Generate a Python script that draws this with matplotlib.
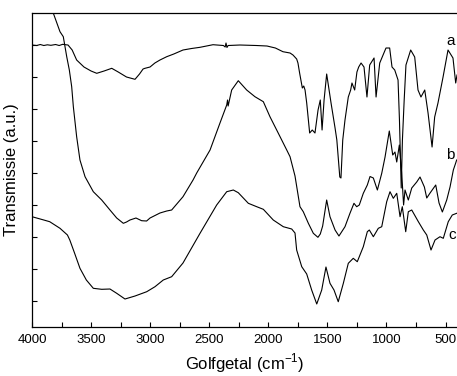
import matplotlib
matplotlib.use("Agg")
import matplotlib.pyplot as plt
from matplotlib.ticker import FixedLocator

plt.rcParams['font.family'] = ['Liberation Sans', 'DejaVu Sans']
plt.rcParams['mathtext.fontset'] = 'custom'
plt.rcParams['mathtext.rm'] = 'Liberation Sans'

# Wavenumbers (cm-1) and transmission (a.u.)
a_wn = [4000, 3960, 3930, 3900, 3870, 3840, 3800, 3770, 3740, 3710, 3695, 3660, 3622, 3560, 3500,
        3452, 3390, 3325, 3270, 3200, 3128, 3090, 3060, 3044, 3001, 2960, 2917, 2860, 2800, 2722,
        2650, 2578, 2468, 2380, 2365, 2358, 2350, 2340, 2240, 2100, 2011, 1940, 1876, 1816, 1791,
        1760, 1749, 1735, 1712, 1700, 1689, 1675, 1650, 1628, 1605, 1579, 1560, 1545, 1528, 1506,
        1469, 1435, 1420, 1395, 1385, 1370, 1351, 1323, 1303, 1292, 1269, 1250, 1235, 1215, 1190,
        1165, 1142, 1105, 1088, 1057, 1004, 973, 953, 930, 902, 890, 875, 865, 850, 835,
        795, 761, 733, 708, 676, 648, 614, 592, 564, 521, 479, 437, 414, 403]
a_T = [282, 281.5, 282.5, 281.5, 282.2, 281.7, 282.5, 281.5, 282.7, 282.2, 282, 277, 267, 260, 256,
       253.7, 256, 258.7, 255, 250, 247.7, 253, 258, 258.7, 260, 264, 267, 270.3, 273, 277,
       278.5, 279.7, 282.3, 281.5, 280, 284, 279.5, 281.5, 282, 281.5, 281, 279, 275.3, 274, 272,
       268, 264, 254, 239, 241, 237, 224, 194, 197, 194, 217, 227, 197, 227, 253,
       224, 199, 187, 150, 149, 187, 207, 230, 237, 244, 237, 255, 260, 264, 260,
       230, 262, 269, 230, 264, 279, 279, 260, 257, 247, 207, 139, 187, 227, 262,
       277, 270, 237, 230, 237, 214, 180, 210, 224, 250, 277, 269, 244, 252]

b_wn = [3860, 3820, 3763, 3735, 3706, 3684, 3664, 3650, 3622, 3594, 3551, 3481, 3410, 3340, 3283,
        3227, 3200, 3171, 3120, 3072, 3030, 3001, 2917, 2860, 2818, 2722, 2637, 2606, 2493, 2409,
        2352, 2345, 2340, 2310, 2254, 2183, 2113, 2042, 1986, 1915, 1844, 1816, 1774, 1732, 1704,
        1661, 1619, 1580, 1560, 1540, 1506, 1478, 1435, 1402, 1351, 1309, 1275, 1252, 1230, 1196,
        1162, 1139, 1111, 1077, 1040, 1012, 976, 947, 928, 913, 891, 871, 855, 843, 815,
        786, 744, 716, 679, 659, 631, 583, 555, 527, 490, 462, 434, 414, 406]
b_T = [335, 314, 295.3, 290.3, 270.3, 257, 240.3, 220.3, 190.3, 167, 150.3, 135.3, 127, 117, 109,
       103.7, 105, 107, 109, 106.3, 106, 109, 114, 116, 117, 130.3, 147, 154, 177, 204,
       222, 227, 221, 237, 246.3, 237, 230.3, 225.3, 210.3, 193.7, 177, 170.3, 151, 120.3, 115.3,
       103.7, 93.7, 89.7, 93, 101, 127, 110.3, 97, 91, 100.3, 113.7, 123.7, 120.3, 122, 133.7,
       142, 150.5, 149, 137, 153.7, 170, 196, 172, 175, 165, 182, 154, 122, 137, 127,
       139, 145, 150, 140, 129, 134, 142, 124, 115, 127, 140, 157, 164, 167]

c_wn = [4000, 3900, 3850, 3763, 3700, 3680, 3640, 3594, 3540, 3481, 3410, 3340, 3283, 3213, 3128,
        3029, 2959, 2889, 2818, 2722, 2578, 2437, 2352, 2296, 2254, 2169, 2098, 2042, 1958, 1873,
        1802, 1774, 1760, 1717, 1675, 1633, 1590, 1548, 1512, 1478, 1444, 1408, 1365, 1323, 1281,
        1247, 1196, 1162, 1145, 1111, 1069, 1040, 998, 970, 942, 913, 885, 866, 837, 815,
        786, 730, 688, 659, 623, 589, 547, 519, 477, 443, 406]
c_T = [110.3, 107, 105.3, 98.7, 92, 87, 74, 58.7, 47, 38.7, 37.7, 38, 33.7, 28, 31,
       35.3, 40.3, 47, 50.3, 64, 93.7, 122, 135.3, 137, 134.3, 123.7, 120.3, 117.7, 107, 100.3,
       98, 94, 77, 60.3, 53, 37, 23, 37, 60, 43.7, 37, 25.3, 43.7, 63.7, 68.7,
       65.3, 80.3, 95.3, 97, 90.3, 98.7, 100.3, 125.3, 135.3, 128.7, 133.7, 110.3, 120.3, 95.3, 115.3,
       117, 105.3, 97, 92, 77, 87, 90.3, 88.7, 105.3, 112, 113.7]

curve_labels = ['a', 'b', 'c']
label_wn = [458, 458, 445]
label_T = [286.5, 172, 92]

fig = plt.figure(figsize=(4.57, 3.76), dpi=100)
ax = fig.add_axes([0.070, 0.1303, 0.930, 0.8351])

for wn, T in [(a_wn, a_T), (b_wn, b_T), (c_wn, c_T)]:
    ax.plot(wn, T, color='black', lw=0.8, solid_joinstyle='round')

for lab, x, y in zip(curve_labels, label_wn, label_T):
    ax.text(x, y, lab, fontsize=11, ha='center', va='center')

ax.set_xlim(4000, 403)
ax.set_ylim(0, 314)
ax.xaxis.set_major_locator(FixedLocator([4000, 3500, 3000, 2500, 2000, 1500, 1000, 500]))
ax.xaxis.set_minor_locator(FixedLocator([3750, 3250, 2750, 2250, 1750, 1250, 750]))
ax.yaxis.set_major_locator(FixedLocator([26, 58, 90, 122, 154, 186, 218, 250, 282]))
ax.set_yticklabels([])
ax.tick_params(axis='both', which='major', direction='in', length=3.5, width=0.8, labelsize=9.5)
ax.tick_params(axis='x', which='minor', direction='in', length=3.5, width=0.8)
ax.tick_params(axis='x', pad=5)
ax.spines['right'].set_visible(False)
for s in ['left', 'bottom', 'top']:
    ax.spines[s].set_linewidth(0.9)

ax.set_xlabel('Golfgetal (cm$^{-1}$)', fontsize=12, labelpad=4)
ax.set_ylabel('Transmissie (a.u.)', fontsize=12, labelpad=6)

fig.savefig('out.png', dpi=100)
